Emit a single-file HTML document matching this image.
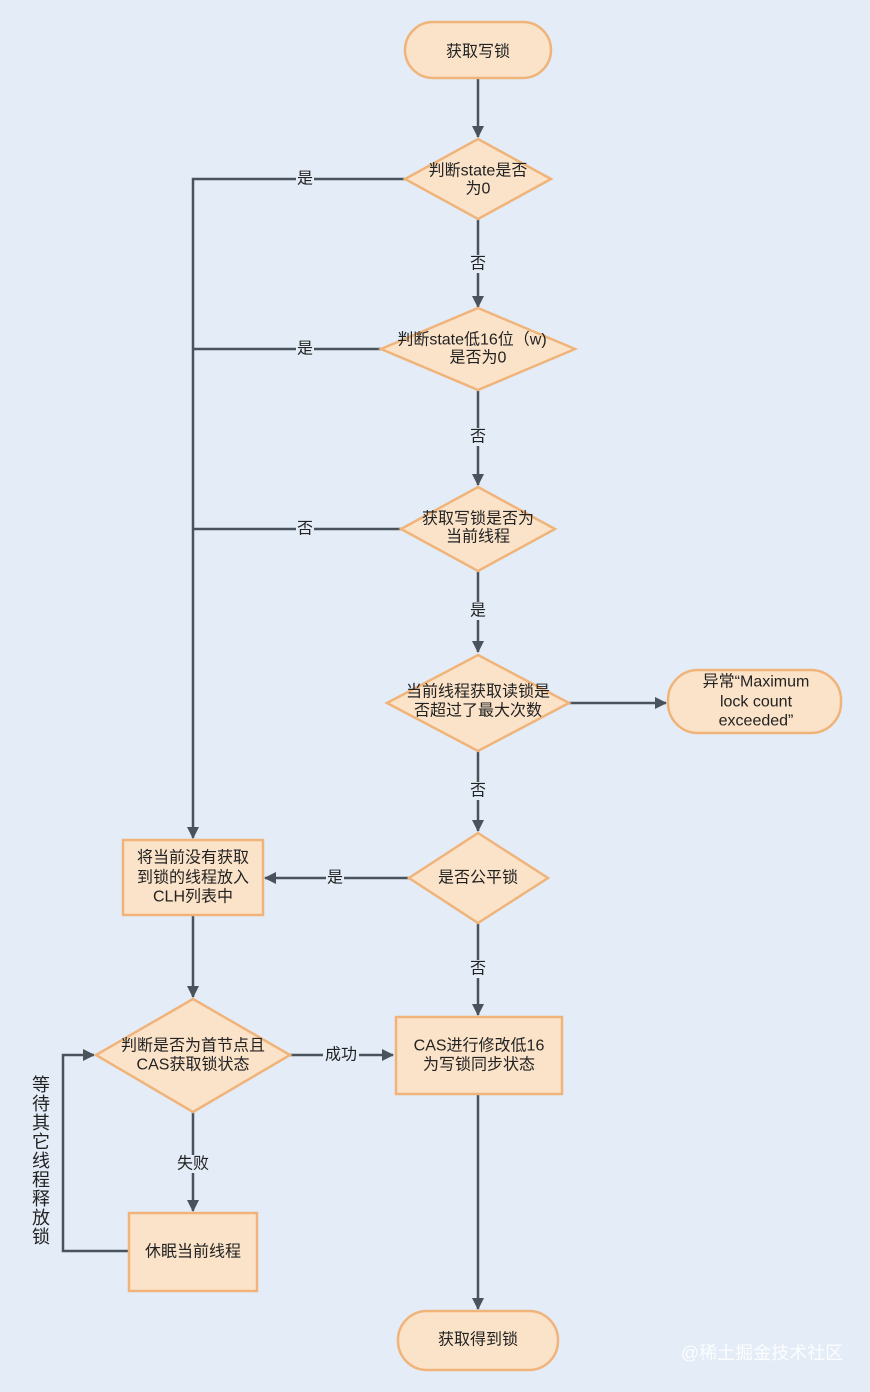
<!DOCTYPE html>
<html><head><meta charset="utf-8"><style>
html,body{margin:0;padding:0;background:#e3ecf7;}
svg{display:block;}
text{font-family:"Liberation Sans","Noto Sans CJK SC",sans-serif;font-size:16px;fill:#222;text-anchor:middle;dominant-baseline:central;}
.s{fill:#fbe3c9;stroke:#f0b47a;stroke-width:2.5;}
.l{stroke:#4a525c;stroke-width:2.5;fill:none;}
.lb{fill:#e3ecf7;}
.v{font-size:18px;}
</style></head><body>
<svg width="870" height="1392" viewBox="0 0 870 1392" xmlns="http://www.w3.org/2000/svg">
<defs><marker id="a" markerWidth="12" markerHeight="12" refX="11" refY="6" orient="auto" markerUnits="userSpaceOnUse"><path d="M0,0 L12,6 L0,12 z" fill="#4a525c"/></marker></defs>
<path class="l" d="M478,78 V137" marker-end="url(#a)"/>
<path class="l" d="M478,219 V307" marker-end="url(#a)"/>
<path class="l" d="M478,390 V485" marker-end="url(#a)"/>
<path class="l" d="M478,571 V652" marker-end="url(#a)"/>
<path class="l" d="M478,751 V831" marker-end="url(#a)"/>
<path class="l" d="M478,923 V1015" marker-end="url(#a)"/>
<path class="l" d="M478,1094 V1309" marker-end="url(#a)"/>
<path class="l" d="M569,703 H666" marker-end="url(#a)"/>
<path class="l" d="M405,179 H193 V838" marker-end="url(#a)"/>
<path class="l" d="M381,349 H193"/>
<path class="l" d="M401,529 H193"/>
<path class="l" d="M409,878 H265" marker-end="url(#a)"/>
<path class="l" d="M193,915 V997" marker-end="url(#a)"/>
<path class="l" d="M290,1055 H393" marker-end="url(#a)"/>
<path class="l" d="M193,1112 V1211" marker-end="url(#a)"/>
<path class="l" d="M129,1251 H63 V1055 H94" marker-end="url(#a)"/>
<rect class="lb" x="296" y="170" width="18" height="18"/><text x="305" y="179">是</text>
<rect class="lb" x="296" y="340" width="18" height="18"/><text x="305" y="349">是</text>
<rect class="lb" x="296" y="520" width="18" height="18"/><text x="305" y="529">否</text>
<rect class="lb" x="469" y="255" width="18" height="18"/><text x="478" y="264">否</text>
<rect class="lb" x="469" y="428" width="18" height="18"/><text x="478" y="437">否</text>
<rect class="lb" x="469" y="602" width="18" height="18"/><text x="478" y="611">是</text>
<rect class="lb" x="469" y="782" width="18" height="18"/><text x="478" y="791">否</text>
<rect class="lb" x="469" y="960" width="18" height="18"/><text x="478" y="969">否</text>
<rect class="lb" x="326" y="869" width="18" height="18"/><text x="335" y="878">是</text>
<rect class="lb" x="323" y="1046" width="36" height="18"/><text x="341" y="1055">成功</text>
<rect class="lb" x="175" y="1155" width="36" height="18"/><text x="193" y="1164">失败</text>
<rect class="s" x="405" y="22" width="146" height="56" rx="28"/><text x="478" y="52">获取写锁</text>
<polygon class="s" points="478,139 551,179 478,219 405,179"/><text x="478" y="171">判断state是否</text><text x="478" y="189">为0</text>
<polygon class="s" points="478,308 575,349 478,390 381,349"/><text x="472" y="340">判断state低16位（w)</text><text x="478" y="358">是否为0</text>
<polygon class="s" points="478,487 555,529 478,571 401,529"/><text x="478" y="519">获取写锁是否为</text><text x="478" y="537">当前线程</text>
<polygon class="s" points="478,655 569,703 478,751 387,703"/><text x="478" y="692">当前线程获取读锁是</text><text x="478" y="711">否超过了最大次数</text>
<rect class="s" x="668" y="670" width="173" height="63" rx="30"/><text x="756" y="682">异常“Maximum</text><text x="756" y="702">lock count</text><text x="756" y="721">exceeded”</text>
<polygon class="s" points="478,833 548,878 478,923 409,878"/><text x="478" y="878">是否公平锁</text>
<rect class="s" x="123" y="840" width="140" height="75"/><text x="193" y="858">将当前没有获取</text><text x="193" y="878">到锁的线程放入</text><text x="193" y="897">CLH列表中</text>
<polygon class="s" points="193,999 290,1055 193,1112 96,1055"/><text x="193" y="1046">判断是否为首节点且</text><text x="193" y="1065">CAS获取锁状态</text>
<rect class="s" x="396" y="1017" width="166" height="77"/><text x="479" y="1046">CAS进行修改低16</text><text x="479" y="1065">为写锁同步状态</text>
<rect class="s" x="129" y="1213" width="128" height="78"/><text x="193" y="1252">休眠当前线程</text>
<rect class="s" x="398" y="1311" width="160" height="59" rx="29"/><text x="478" y="1340">获取得到锁</text>
<text class="v" x="41" y="1085">等</text><text class="v" x="41" y="1104">待</text><text class="v" x="41" y="1123">其</text><text class="v" x="41" y="1142">它</text><text class="v" x="41" y="1161">线</text><text class="v" x="41" y="1180">程</text><text class="v" x="41" y="1199">释</text><text class="v" x="41" y="1218">放</text><text class="v" x="41" y="1237">锁</text>
<text x="762" y="1353" style="fill:#ffffff;font-size:18px;opacity:0.9">@稀土掘金技术社区</text>
</svg>
</body></html>
